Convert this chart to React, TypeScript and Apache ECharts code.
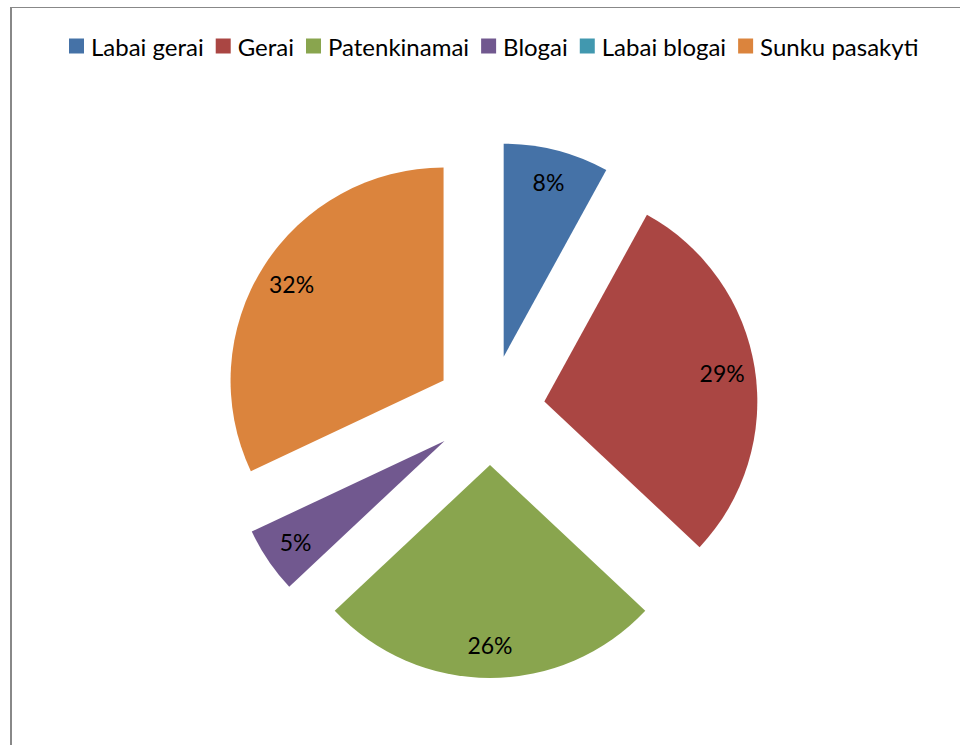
import React, { useEffect, useRef } from "react";
import * as echarts from "echarts";

const categories = ["Labai gerai", "Gerai", "Patenkinamai", "Blogai", "Labai blogai", "Sunku pasakyti"];
const values = [8, 29, 26, 5, 0, 32];
const colors = ["#4572A7", "#AA4643", "#89A54E", "#71588F", "#4198AF", "#DB843D"];

export default function App() {
  const ref = useRef<HTMLDivElement>(null);
  useEffect(() => {
    document.body.style.margin = "0";
    const chart = echarts.init(ref.current!, null, { renderer: "svg" });
    const font = "Lato, 'Open Sans', sans-serif";
    const mk = (withLabel: boolean) =>
      categories.map((name, i) => ({
        name,
        value: values[i],
        selected: true,
        itemStyle: { color: withLabel ? "rgba(0,0,0,0)" : colors[i] },
        label: { show: withLabel && values[i] > 0 },
      }));
    chart.setOption({
      animation: false,
      backgroundColor: "#ffffff",
      legend: {
        top: 29,
        left: 64,
        itemWidth: 15,
        itemHeight: 15,
        itemGap: 12,
        icon: "rect",
        selectedMode: false,
        textStyle: { fontFamily: font, fontSize: 24, color: "#000", padding: [0, 0, 0, 2] },
        data: categories.map((name, i) => ({ name, itemStyle: { color: colors[i] } })),
      },
      graphic: [
        { type: "line", shape: { x1: 11, y1: 7, x2: 11, y2: 745 }, style: { stroke: "#888", lineWidth: 2 } },
        { type: "line", shape: { x1: 10, y1: 7.5, x2: 960, y2: 7.5 }, style: { stroke: "#888", lineWidth: 1 } },
      ],
      series: [
        {
          type: "pie",
          center: [490, 410],
          radius: [0, 213],
          startAngle: 90,
          clockwise: true,
          selectedMode: "multiple",
          selectedOffset: 55,
          label: { show: false },
          labelLine: { show: false },
          emphasis: { disabled: true },
          data: mk(false),
        },
        {
          type: "pie",
          center: [490, 410],
          radius: [141, 213],
          startAngle: 90,
          clockwise: true,
          selectedMode: "multiple",
          selectedOffset: 55,
          silent: true,
          label: {
            position: "inside",
            formatter: "{d}%",
            fontFamily: font,
            fontSize: 23,
            color: "#000",
          },
          labelLine: { show: false },
          emphasis: { disabled: true },
          data: mk(true),
        },
      ],
    });
    return () => chart.dispose();
  }, []);
  return <div ref={ref} style={{ position: "absolute", left: 0, top: 0, width: 960, height: 745 }} />;
}
